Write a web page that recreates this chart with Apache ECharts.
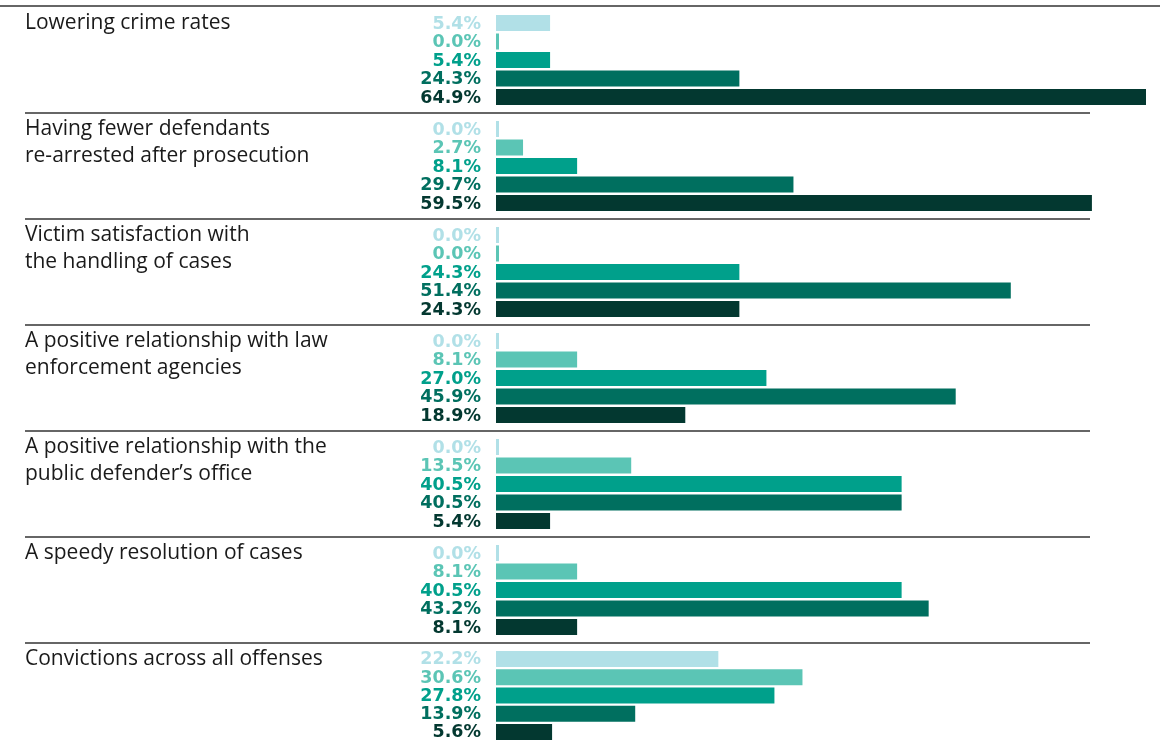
<!DOCTYPE html>
<html>
<head>
<meta charset="utf-8">
<script src="https://cdn.jsdelivr.net/npm/echarts@6/dist/echarts.min.js"></script>
<style>
  html, body { margin: 0; padding: 0; background: #fff; }
  #chart { width: 1160px; height: 741px; }
</style>
</head>
<body>
<div id="chart"></div>
<script>
// priorities (one group each), rated on a 5-step importance scale
const groups = [
  "Lowering crime rates",
  "Having fewer defendants\nre-arrested after prosecution",
  "Victim satisfaction with\nthe handling of cases",
  "A positive relationship with law\nenforcement agencies",
  "A positive relationship with the\npublic defender\u2019s office",
  "A speedy resolution of cases",
  "Convictions across all offenses"
];
const levels = ["Not important", "Slightly important", "Moderately important", "Very important", "Extremely important"];

const lowering = [5.4, 0.0, 5.4, 24.3, 64.9];
const rearrest = [0.0, 2.7, 8.1, 29.7, 59.5];
const victim = [0.0, 0.0, 24.3, 51.4, 24.3];
const lawEnf = [0.0, 8.1, 27.0, 45.9, 18.9];
const pubDef = [0.0, 13.5, 40.5, 40.5, 5.4];
const speedy = [0.0, 8.1, 40.5, 43.2, 8.1];
const convictions = [22.2, 30.6, 27.8, 13.9, 5.6];
const values = [lowering, rearrest, victim, lawEnf, pubDef, speedy, convictions];

const colors = ["#b1e0e7", "#5bc5b5", "#00a08b", "#006f5f", "#033830"];

const chart = echarts.init(document.getElementById("chart"));

const PITCH = 106;
const grids = [], xAxes = [], yAxes = [], series = [], graphics = [];

groups.forEach((name, i) => {
  const top = 13.75 + PITCH * i;
  grids.push({ left: 496, width: 651, top: top, height: 92.5 });
  xAxes.push({ gridIndex: i, type: "value", min: 0, max: 65, show: false });
  yAxes.push({ gridIndex: i, type: "category", data: levels, inverse: true, show: false });
  series.push({
    type: "bar",
    xAxisIndex: i,
    yAxisIndex: i,
    barWidth: 16,
    barMinHeight: 3,
    silent: true,
    data: values[i].map((v, k) => ({
      value: v,
      itemStyle: { color: colors[k] },
      label: { color: colors[k] }
    })),
    label: {
      show: true,
      position: "left",
      distance: 15,
      fontFamily: "DejaVu Sans",
      fontWeight: "bold",
      fontSize: 17.5,
      offset: [0, 1],
      formatter: (p) => p.value.toFixed(1) + "%"
    }
  });
  graphics.push({
    type: "text",
    left: 25,
    top: 10 + PITCH * i,
    style: {
      text: name,
      fill: "#1a1a1a",
      font: "21px 'Open Sans'",
      lineHeight: 26.5
    }
  });
  if (i > 0) {
    graphics.push({
      type: "line",
      shape: { x1: 25, y1: 7 + PITCH * i, x2: 1090, y2: 7 + PITCH * i },
      style: { stroke: "#333", lineWidth: 1.3 }
    });
  }
});

graphics.push({
  type: "line",
  shape: { x1: 0, y1: 6, x2: 1160, y2: 6 },
  style: { stroke: "#333", lineWidth: 1.3 }
});

chart.setOption({
  animation: false,
  grid: grids,
  xAxis: xAxes,
  yAxis: yAxes,
  series: series,
  graphic: graphics
});
</script>
</body>
</html>
